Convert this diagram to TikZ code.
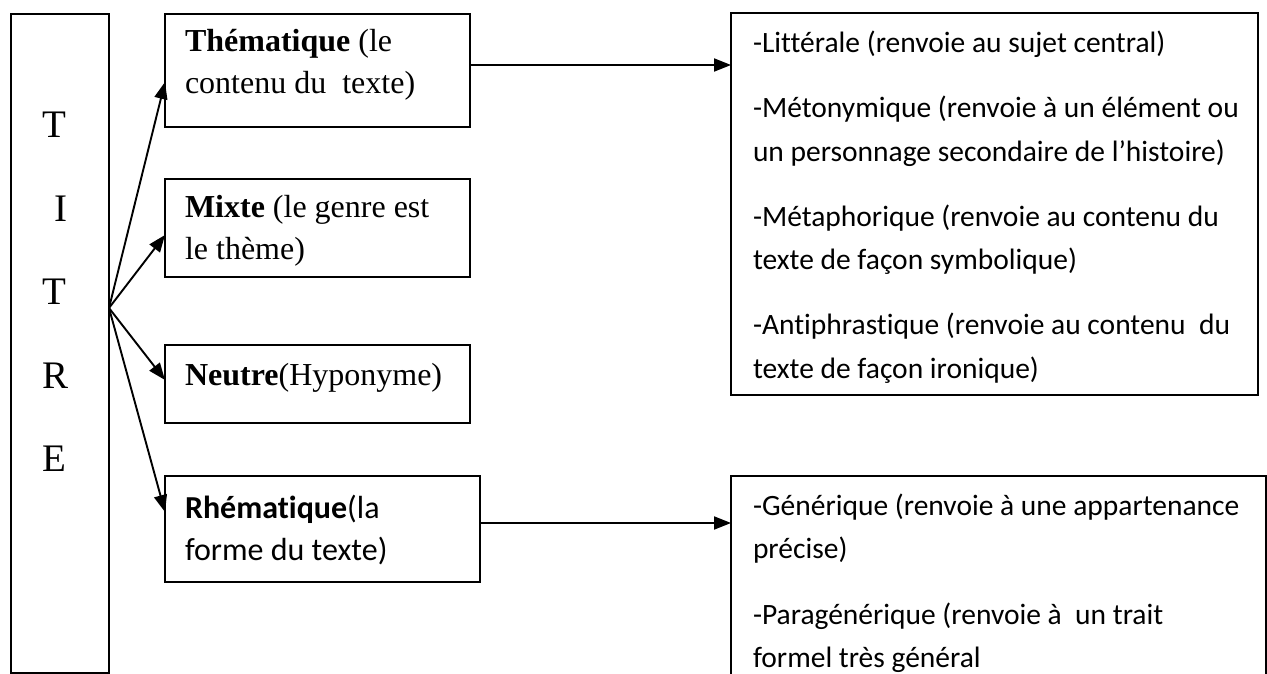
\documentclass[tikz,border=0pt]{standalone}
\usepackage{fontspec}
\setmainfont{Liberation Serif}
\newfontfamily\calfont[Ligatures=NoCommon]{Carlito}
\usetikzlibrary{arrows.meta}
\begin{document}
\begin{tikzpicture}[x=1pt,y=-1pt,
  box/.style={draw, line width=1.8pt, rectangle, inner sep=0pt, outer sep=0pt, anchor=north west},
  txt/.style={anchor=base west, inner sep=0pt, outer sep=0pt},
  arr/.style={line width=1.9pt, -{Triangle[length=17pt,width=13pt]}},
  serif32/.style={font=\fontsize{32}{42}\selectfont},
  cal29/.style={font=\calfont\fontsize{29.5}{43.5}\selectfont},
]
\useasboundingbox (0,0) rectangle (1267,674);
% boxes
\node[box, minimum width=98pt, minimum height=659pt] (titre) at (11,14) {};
\node[box, minimum width=305pt, minimum height=113pt] (them) at (165,14) {};
\node[box, minimum width=305pt, minimum height=98pt] (mixte) at (165,179) {};
\node[box, minimum width=305pt, minimum height=78pt] (neutre) at (165,345) {};
\node[box, minimum width=315pt, minimum height=106pt] (rhem) at (165,476) {};
\node[box, minimum width=527pt, minimum height=382pt] (lit) at (731,13) {};
\node[box, minimum width=535pt, minimum height=230pt] (gen) at (731,476) {};
% texts
\node[txt, font=\fontsize{39}{83.5}\selectfont] (titretxt) at (42.5,138)
  {\parbox[t]{50pt}{T\\\hspace*{11.5pt}I\\T\\R\\E}};
\node[txt, serif32] (themtxt) at (185,52)
  {\parbox[t]{280pt}{\textbf{Thématique} (le\\contenu du\ \ texte)}};
\node[txt, serif32] (mixtetxt) at (185,218)
  {\parbox[t]{280pt}{\textbf{Mixte} (le genre est\\le thème)}};
\node[txt, serif32] (neutretxt) at (185,385) {\textbf{Neutre}(Hyponyme)};
\node[txt, font=\calfont\fontsize{32}{42}\selectfont] (rhemtxt) at (185,518)
  {\parbox[t]{280pt}{\textbf{Rhématique}(la\\forme du texte)}};
\node[txt, cal29] (littxt) at (753,53)
  {\parbox[t]{500pt}{\setlength{\parskip}{21.5pt}%
  -Littérale (renvoie au sujet central)\par
  -Métonymique (renvoie à un élément ou\\un personnage secondaire de l’histoire)\par
  -Métaphorique (renvoie au contenu du\\texte de façon symbolique)\par
  -Antiphrastique (renvoie au contenu\ \ du\\texte de façon ironique)}};
\node[txt, cal29] (gentxt) at (753,515)
  {\parbox[t]{500pt}{\setlength{\parskip}{22pt}%
  -Générique (renvoie à une appartenance\\précise)\par
  -Paragénérique (renvoie à\ \ un trait\\formel très général}};
% connectors
\coordinate (fan) at ([yshift=35.5pt]titre.east);
\draw[arr] (fan) -- ([yshift=-11.5pt]them.west);
\draw[arr] (fan) -- ([yshift=-7pt]mixte.west);
\draw[arr] (fan) -- ([yshift=4pt]neutre.west);
\draw[arr] (fan) -- ([yshift=17pt]rhem.west);
\draw[arr] ([yshift=5.5pt]them.east) -- ([yshift=5.5pt]them.east -| lit.west);
\draw[arr] ([yshift=6pt]rhem.east) -- ([yshift=6pt]rhem.east -| gen.west);
\end{tikzpicture}
\end{document}
